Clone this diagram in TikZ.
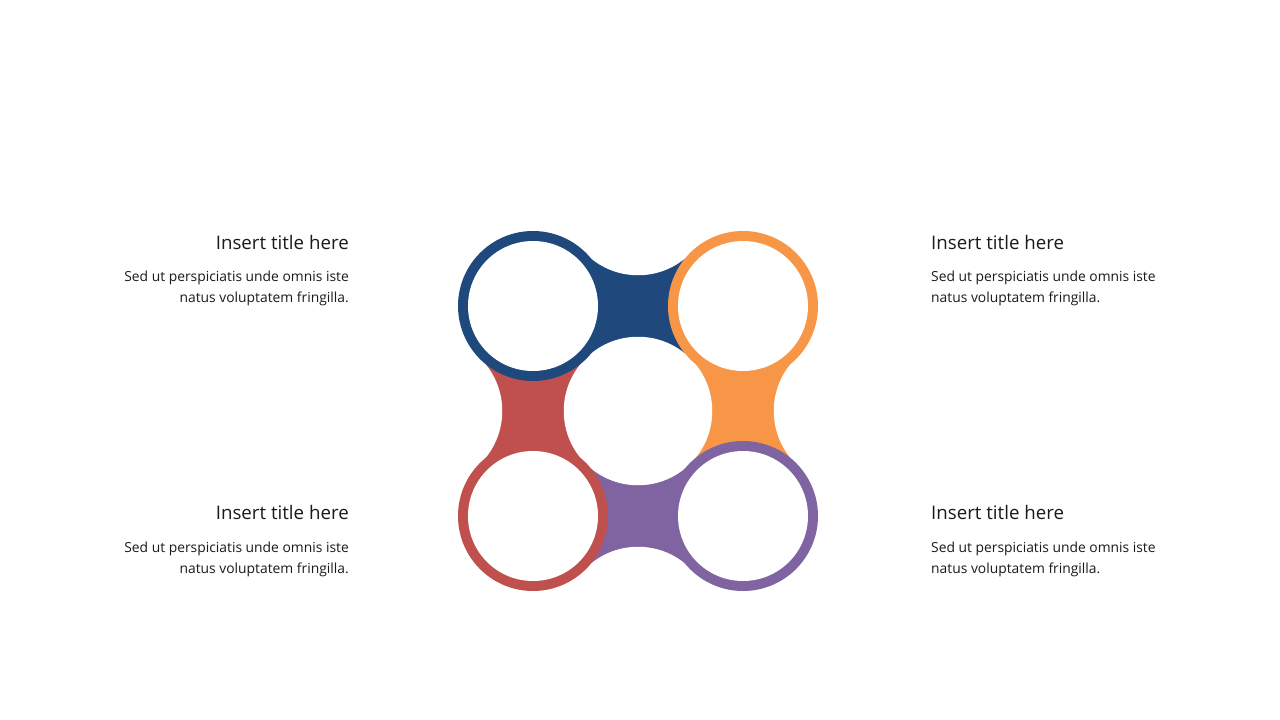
\documentclass[tikz,border=0pt]{standalone}
\usepackage{fontspec}
\setmainfont{Open Sans}[Ligatures=NoCommon]
\definecolor{cblue}{HTML}{1F497D}
\definecolor{corange}{HTML}{F79646}
\definecolor{cred}{HTML}{C0504D}
\definecolor{cpurple}{HTML}{8064A2}
\definecolor{ctext}{HTML}{1A1A1A}
\begin{document}
\begin{tikzpicture}[x=1pt,y=-1pt,
  ttl/.style={inner sep=0pt,text=ctext,font=\fontsize{18.7}{22}\selectfont},
  bdy/.style={inner sep=0pt,text=ctext,font=\fontsize{13.85}{21}\selectfont},
  hole/.style={fill=white}]
\useasboundingbox[fill=white] (0,0) rectangle (1280,720);
% bands
\fill[cblue] (533,306) -- (586,253) -- (690,253) -- (743,306) -- (690,359) -- (586,359) -- cycle;
\fill[corange] (743,306) -- (796,359) -- (796,463) -- (743,516) -- (690,463) -- (690,359) -- cycle;
\fill[cpurple] (743,516) -- (690,569) -- (586,569) -- (533,516) -- (586,463) -- (690,463) -- cycle;
\fill[cred] (533,516) -- (480,463) -- (480,359) -- (533,306) -- (586,359) -- (586,463) -- cycle;
% concave cut-outs
\fill[hole] (638,201) circle[radius=74.25];
\fill[hole] (848,411) circle[radius=74.25];
\fill[hole] (638,621) circle[radius=74.25];
\fill[hole] (428,411) circle[radius=74.25];
\node[circle,fill=white,minimum size=148.5pt,inner sep=0pt] (c) at (638,411) {};
% rings
\fill[cblue] (533,306) circle[radius=75];
\node[circle,fill=white,minimum size=130pt,inner sep=0pt] (tl) at (533,306) {};
\fill[corange] (743,306) circle[radius=75];
\node[circle,fill=white,minimum size=130pt,inner sep=0pt] (tr) at (743,306) {};
\fill[cred] (533,516) circle[radius=75];
\node[circle,fill=white,minimum size=130pt,inner sep=0pt] (bl) at (533,516) {};
\fill[cpurple] (743,516) circle[radius=75];
\node[circle,fill=white,minimum size=130pt,inner sep=0pt] (br) at (743,516) {};
% texts
\node[ttl,anchor=base east] (t1) at (349,249) {Insert title here};
\node[bdy,anchor=base east] (b1a) at (349,281) {Sed ut perspiciatis unde omnis iste};
\node[bdy,anchor=base east] (b1b) at (349,302) {natus voluptatem fringilla.};
\node[ttl,anchor=base west] (t2) at (931,249) {Insert title here};
\node[bdy,anchor=base west] (b2a) at (931,281) {Sed ut perspiciatis unde omnis iste};
\node[bdy,anchor=base west] (b2b) at (931,302) {natus voluptatem fringilla.};
\node[ttl,anchor=base east] (t3) at (349,519) {Insert title here};
\node[bdy,anchor=base east] (b3a) at (349,552) {Sed ut perspiciatis unde omnis iste};
\node[bdy,anchor=base east] (b3b) at (349,573) {natus voluptatem fringilla.};
\node[ttl,anchor=base west] (t4) at (931,519) {Insert title here};
\node[bdy,anchor=base west] (b4a) at (931,552) {Sed ut perspiciatis unde omnis iste};
\node[bdy,anchor=base west] (b4b) at (931,573) {natus voluptatem fringilla.};
\end{tikzpicture}
\end{document}
